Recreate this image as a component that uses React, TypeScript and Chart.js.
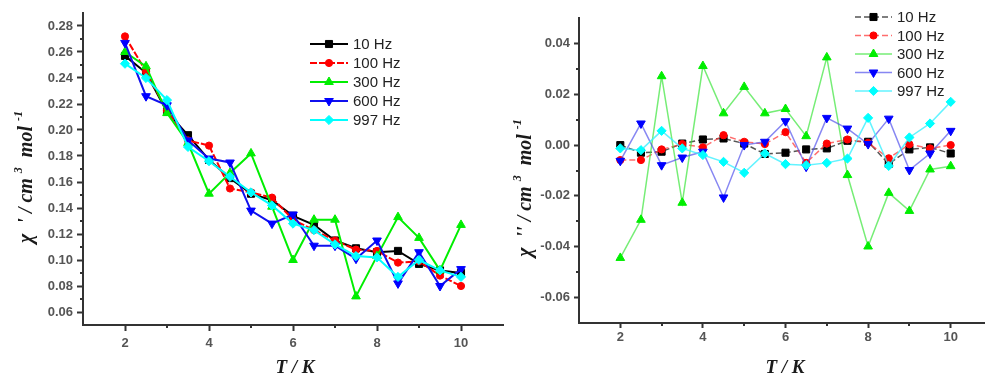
import React, { useEffect, useRef } from "react";
import { Chart, registerables } from "chart.js";

Chart.register(...registerables);

// ---------- data ----------
const temps = [2, 2.5, 3, 3.5, 4, 4.5, 5, 5.5, 6, 6.5, 7, 7.5, 8, 8.5, 9, 9.5, 10];
const seriesLabels = ["10 Hz", "100 Hz", "300 Hz", "600 Hz", "997 Hz"];

// chi' (in-phase)
const chiP10 = [0.257, 0.244, 0.214, 0.196, 0.177, 0.163, 0.151, 0.146, 0.134, 0.127, 0.115, 0.109, 0.106, 0.107, 0.097, 0.092, 0.090];
const chiP100 = [0.272, 0.245, 0.215, 0.192, 0.188, 0.155, 0.152, 0.148, 0.131, 0.123, 0.115, 0.108, 0.107, 0.098, 0.099, 0.088, 0.080];
const chiP300 = [0.260, 0.249, 0.213, 0.190, 0.151, 0.167, 0.182, 0.141, 0.100, 0.131, 0.131, 0.072, 0.103, 0.133, 0.117, 0.092, 0.127];
const chiP600 = [0.267, 0.226, 0.219, 0.192, 0.178, 0.175, 0.138, 0.128, 0.135, 0.111, 0.111, 0.101, 0.115, 0.082, 0.106, 0.080, 0.093];
const chiP997 = [0.251, 0.240, 0.223, 0.187, 0.176, 0.164, 0.152, 0.142, 0.128, 0.123, 0.112, 0.103, 0.102, 0.087, 0.100, 0.092, 0.087];

// chi'' (out-of-phase)
const chiPP10 = [0.0, -0.003, -0.0026, 0.0006, 0.0022, 0.0026, 0.0006, -0.0035, -0.003, -0.0017, -0.0013, 0.0017, 0.0013, -0.0074, -0.0017, -0.0009, -0.0033];
const chiPP100 = [-0.0059, -0.0059, -0.0017, 0.0004, -0.0009, 0.0039, 0.0013, 0.0004, 0.0051, -0.007, 0.0006, 0.0022, 0.0009, -0.0052, 0.0003, -0.0013, 0.0];
const chiPP300 = [-0.0444, -0.0294, 0.0271, -0.0227, 0.0311, 0.0125, 0.0229, 0.0125, 0.0142, 0.0035, 0.0345, -0.0118, -0.0399, -0.0188, -0.0259, -0.0096, -0.0083];
const chiPP600 = [-0.0062, 0.0085, -0.0079, -0.0049, -0.0026, -0.0206, 0.0, 0.0013, 0.0094, -0.0085, 0.0107, 0.0065, 0.0004, 0.0104, -0.0098, -0.0033, 0.0056];
const chiPP997 = [-0.0013, -0.002, 0.0056, -0.0013, -0.0039, -0.0066, -0.0109, -0.0033, -0.0075, -0.0079, -0.007, -0.0053, 0.0107, -0.0082, 0.003, 0.0085, 0.017];

// ticks
const xTicks = [2, 4, 6, 8, 10];
const xMinorTicks = [3, 5, 7, 9];
const leftYTicks = [0.06, 0.08, 0.10, 0.12, 0.14, 0.16, 0.18, 0.20, 0.22, 0.24, 0.26, 0.28];
const leftYMinorTicks = [0.07, 0.09, 0.11, 0.13, 0.15, 0.17, 0.19, 0.21, 0.23, 0.25, 0.27];
const rightYTicks = [-0.06, -0.04, -0.02, 0.0, 0.02, 0.04];
const rightYMinorTicks = [-0.05, -0.03, -0.01, 0.01, 0.03];

// ---------- styles ----------
const markerColors = ["#000000", "#ff0000", "#00ee00", "#0000ff", "#00ffff"];
const leftLineColors = ["#000000", "#ff0000", "#00ee00", "#1010ee", "#00ffff"];
const rightLineColors = ["#555555", "rgba(255,60,60,0.75)", "rgba(60,230,60,0.7)", "rgba(70,70,235,0.65)", "rgba(60,240,255,0.8)"];
const pointStyles = ["rect", "circle", "triangle", "triangle", "rectRot"];
const pointRotations = [0, 0, 0, 180, 0];
const pointRadii = [5, 3.6, 5, 5, 4.6];

const AXIS_COLOR = "#333333";
const TICK_FONT = { family: "'Liberation Sans', Arial, sans-serif", size: 13, weight: "bold" as const };
const TICK_COLOR = "#555555";
const TITLE_FONT = "'Liberation Serif', 'Times New Roman', serif";

type Seg = { t: string; sup?: boolean };

function drawMarker(ctx: CanvasRenderingContext2D, style: string, r: number, rotDeg: number, x: number, y: number) {
  let a = (rotDeg * Math.PI) / 180;
  ctx.beginPath();
  if (style === "circle") {
    ctx.arc(x, y, r, 0, Math.PI * 2);
  } else if (style === "rect") {
    const s = r * Math.SQRT1_2;
    ctx.rect(x - s, y - s, 2 * s, 2 * s);
  } else if (style === "rectRot") {
    ctx.moveTo(x, y - r);
    ctx.lineTo(x + r, y);
    ctx.lineTo(x, y + r);
    ctx.lineTo(x - r, y);
    ctx.closePath();
  } else {
    ctx.moveTo(x + Math.sin(a) * r, y - Math.cos(a) * r);
    a += (2 * Math.PI) / 3;
    ctx.lineTo(x + Math.sin(a) * r, y - Math.cos(a) * r);
    a += (2 * Math.PI) / 3;
    ctx.lineTo(x + Math.sin(a) * r, y - Math.cos(a) * r);
    ctx.closePath();
  }
  ctx.fill();
  ctx.stroke();
}

function legendPlugin(cfg: { x: number; y: number; lineLen: number; rowH: number; textX: number }) {
  return {
    id: "customLegend",
    afterDraw(chart: any) {
      const ctx: CanvasRenderingContext2D = chart.ctx;
      chart.data.datasets.forEach((ds: any, i: number) => {
        const y = cfg.y + i * cfg.rowH;
        ctx.save();
        ctx.strokeStyle = ds.borderColor;
        ctx.lineWidth = ds.borderWidth;
        ctx.setLineDash(ds.borderDash || []);
        ctx.beginPath();
        ctx.moveTo(cfg.x, y);
        ctx.lineTo(cfg.x + cfg.lineLen, y);
        ctx.stroke();
        ctx.setLineDash([]);
        ctx.fillStyle = ds.pointBackgroundColor;
        ctx.strokeStyle = ds.pointBorderColor;
        ctx.lineWidth = 1;
        drawMarker(ctx, ds.pointStyle, ds.pointRadius, ds.pointRotation || 0, cfg.x + cfg.lineLen / 2, y);
        ctx.fillStyle = "#222222";
        ctx.font = "15px 'Liberation Sans', Arial, sans-serif";
        ctx.textAlign = "left";
        ctx.textBaseline = "middle";
        ctx.fillText(ds.label, cfg.textX, y + 1);
        ctx.restore();
      });
    },
  };
}

function titlesPlugin(items: { segs: Seg[]; x: number; y: number; rot: number; size: number }[]) {
  return {
    id: "axisTitles",
    afterDraw(chart: any) {
      const ctx: CanvasRenderingContext2D = chart.ctx;
      items.forEach((it) => {
        ctx.save();
        ctx.translate(it.x, it.y);
        ctx.rotate(it.rot);
        ctx.fillStyle = "#1a1a1a";
        ctx.textBaseline = "middle";
        ctx.textAlign = "left";
        const mainFont = `italic bold ${it.size}px ${TITLE_FONT}`;
        const supFont = `italic bold ${Math.round(it.size * 0.6)}px ${TITLE_FONT}`;
        let total = 0;
        const widths = it.segs.map((s) => {
          ctx.font = s.sup ? supFont : mainFont;
          const w = ctx.measureText(s.t).width;
          total += w;
          return w;
        });
        let cx = -total / 2;
        it.segs.forEach((s, i) => {
          ctx.font = s.sup ? supFont : mainFont;
          ctx.fillText(s.t, cx, s.sup ? -it.size * 0.38 : 0);
          cx += widths[i];
        });
        ctx.restore();
      });
    },
  };
}

function minorTicksPlugin(xs: number[], ys: number[], len: number) {
  return {
    id: "minorTicks",
    afterDraw(chart: any) {
      const ctx: CanvasRenderingContext2D = chart.ctx;
      const sx = chart.scales.x;
      const sy = chart.scales.y;
      ctx.save();
      ctx.strokeStyle = AXIS_COLOR;
      ctx.lineWidth = 2;
      xs.forEach((v) => {
        const px = Math.round(sx.getPixelForValue(v));
        ctx.beginPath();
        ctx.moveTo(px, sx.top);
        ctx.lineTo(px, sx.top + len);
        ctx.stroke();
      });
      ys.forEach((v) => {
        const py = Math.round(sy.getPixelForValue(v));
        ctx.beginPath();
        ctx.moveTo(sy.right, py);
        ctx.lineTo(sy.right - len, py);
        ctx.stroke();
      });
      ctx.restore();
    },
  };
}

type Panel = {
  series: number[][];
  lineColors: string[];
  lineWidth: number;
  dashes: number[][];
  yMin: number;
  yMax: number;
  yTicks: number[];
  yMinor: number[];
  yWidth: number;
  xHeight: number;
  pad: { left: number; right: number; top: number; bottom: number };
  xTickPad: number;
  yTickPad: number;
  tickLen: number;
  legend: { x: number; y: number; lineLen: number; rowH: number; textX: number };
  titles: { segs: Seg[]; x: number; y: number; rot: number; size: number }[];
};

function makeConfig(p: Panel): any {
  const datasets = p.series.map((arr, i) => ({
    label: seriesLabels[i],
    data: temps.map((t, j) => ({ x: t, y: arr[j] })),
    borderColor: p.lineColors[i],
    borderWidth: p.lineWidth,
    borderDash: p.dashes[i],
    backgroundColor: markerColors[i],
    pointBackgroundColor: markerColors[i],
    pointBorderColor: markerColors[i],
    pointBorderWidth: 1,
    pointStyle: pointStyles[i],
    pointRotation: pointRotations[i],
    pointRadius: pointRadii[i],
    tension: 0,
    fill: false,
    order: 4 - i,
  }));
  return {
    type: "line",
    data: { datasets },
    options: {
      animation: false,
      responsive: false,
      devicePixelRatio: 1,
      layout: { padding: p.pad },
      plugins: { legend: { display: false }, tooltip: { enabled: false }, title: { display: false } },
      scales: {
        x: {
          type: "linear",
          min: 1,
          max: 11,
          afterFit: (s: any) => {
            s.height = p.xHeight;
          },
          afterBuildTicks: (s: any) => {
            s.ticks = xTicks.map((v) => ({ value: v }));
          },
          ticks: {
            font: TICK_FONT,
            color: TICK_COLOR,
            padding: p.xTickPad,
            maxRotation: 0,
            autoSkip: false,
            callback: (v: any) => String(v),
          },
          grid: { drawOnChartArea: false, drawTicks: true, tickLength: p.tickLen, tickColor: AXIS_COLOR, tickWidth: 2 },
          border: { display: true, color: AXIS_COLOR, width: 2 },
        },
        y: {
          type: "linear",
          min: p.yMin,
          max: p.yMax,
          afterFit: (s: any) => {
            s.width = p.yWidth;
          },
          afterBuildTicks: (s: any) => {
            s.ticks = p.yTicks.map((v) => ({ value: v }));
          },
          ticks: {
            font: TICK_FONT,
            color: TICK_COLOR,
            padding: p.yTickPad,
            autoSkip: false,
            callback: (v: any) => Number(v).toFixed(2),
          },
          grid: { drawOnChartArea: false, drawTicks: true, tickLength: p.tickLen, tickColor: AXIS_COLOR, tickWidth: 2 },
          border: { display: true, color: AXIS_COLOR, width: 2 },
        },
      },
    },
    plugins: [
      minorTicksPlugin(xMinorTicks, p.yMinor, 3),
      legendPlugin(p.legend),
      titlesPlugin(p.titles),
    ],
  };
}

const leftPanel: Panel = {
  series: [chiP10, chiP100, chiP300, chiP600, chiP997],
  lineColors: leftLineColors,
  lineWidth: 2,
  dashes: [[], [7, 2], [], [], []],
  yMin: 0.05,
  yMax: 0.29,
  yTicks: leftYTicks,
  yMinor: leftYMinorTicks,
  yWidth: 83,
  xHeight: 54,
  pad: { left: 0, right: 17, top: 13, bottom: 0 },
  xTickPad: 5,
  yTickPad: 4,
  tickLen: 6,
  legend: { x: 310, y: 44, lineLen: 38, rowH: 19, textX: 353 },
  titles: [
    { segs: [{ t: "T / K" }], x: 295, y: 368, rot: 0, size: 19 },
    {
      segs: [{ t: "χ  ' / cm " }, { t: "3", sup: true }, { t: "  mol " }, { t: "-1", sup: true }],
      x: 27,
      y: 177,
      rot: -Math.PI / 2,
      size: 20,
    },
  ],
};

const rightPanel: Panel = {
  series: [chiPP10, chiPP100, chiPP300, chiPP600, chiPP997],
  lineColors: rightLineColors,
  lineWidth: 1.5,
  dashes: [[6, 3], [6, 3], [], [], []],
  yMin: -0.07,
  yMax: 0.05,
  yTicks: rightYTicks,
  yMinor: rightYMinorTicks,
  yWidth: 74,
  xHeight: 56,
  pad: { left: 0, right: 13, top: 18, bottom: 0 },
  xTickPad: 2,
  yTickPad: 4,
  tickLen: 5,
  legend: { x: 350, y: 17, lineLen: 37, rowH: 18.5, textX: 392 },
  titles: [
    { segs: [{ t: "T / K" }], x: 280, y: 368, rot: 0, size: 19 },
    {
      segs: [{ t: "χ  '' / cm " }, { t: "3", sup: true }, { t: "  mol " }, { t: "-1", sup: true }],
      x: 21,
      y: 188,
      rot: -Math.PI / 2,
      size: 20,
    },
  ],
};

export default function App() {
  const leftRef = useRef<HTMLCanvasElement>(null);
  const rightRef = useRef<HTMLCanvasElement>(null);

  useEffect(() => {
    const c1 = new Chart(leftRef.current as HTMLCanvasElement, makeConfig(leftPanel));
    const c2 = new Chart(rightRef.current as HTMLCanvasElement, makeConfig(rightPanel));
    return () => {
      c1.destroy();
      c2.destroy();
    };
  }, []);

  return (
    <div
      style={{
        position: "absolute",
        left: 0,
        top: 0,
        width: 985,
        height: 379,
        overflow: "hidden",
        background: "#ffffff",
      }}
    >
      <canvas
        ref={leftRef}
        width={520}
        height={379}
        style={{ position: "absolute", left: 0, top: 0, width: 520, height: 379 }}
      />
      <canvas
        ref={rightRef}
        width={500}
        height={379}
        style={{ position: "absolute", left: 505, top: 0, width: 500, height: 379 }}
      />
    </div>
  );
}
